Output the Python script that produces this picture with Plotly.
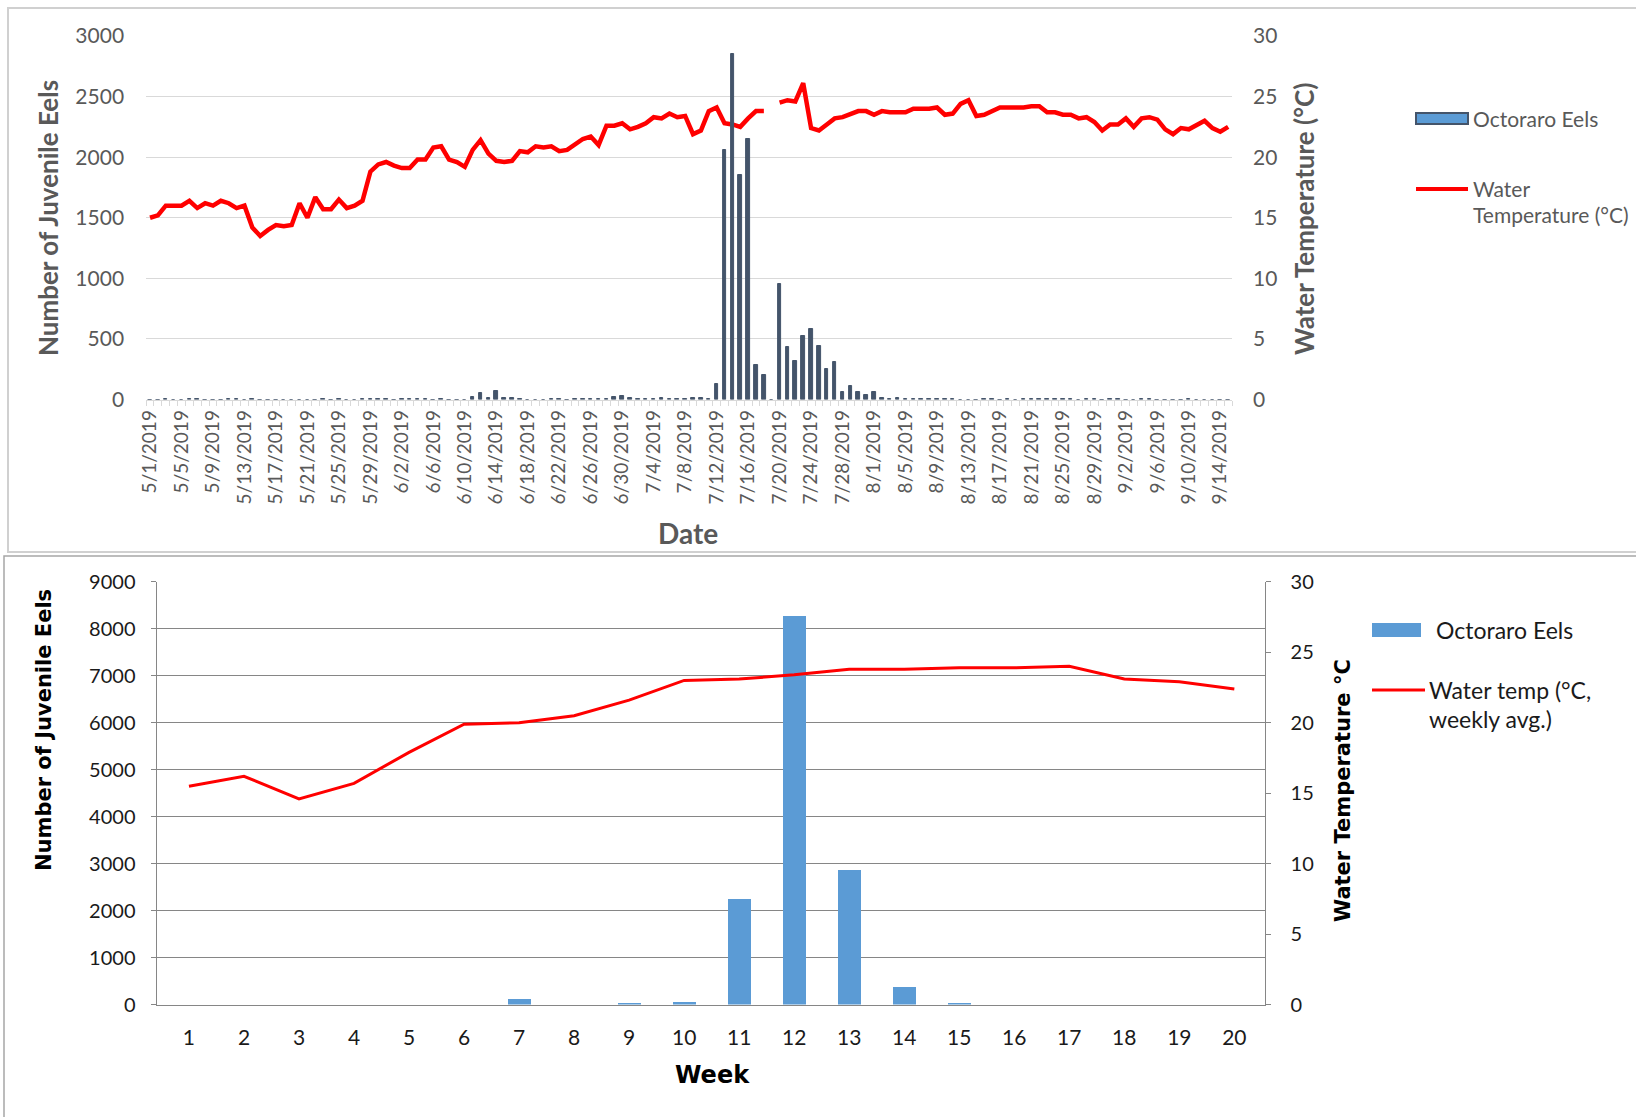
import pandas as pd
import plotly.graph_objects as go

W, H = 1636, 1117

# ---- Daily counts and water temperature, 1 May - 15 Sep 2019 ----
dates = pd.date_range("2019-05-01", "2019-09-15", freq="D").strftime("%Y-%m-%d").tolist()

daily_eels = [
    0, 0, 8, 0, 0, 8, 8, 0, 0, 0,            # 5/1 - 5/10
    8, 8, 0, 8, 0, 0, 0, 0, 0, 0,            # 5/11 - 5/20
    0, 0, 8, 0, 8, 0, 0, 8, 8, 8,            # 5/21 - 5/30
    8, 0, 8, 8, 8, 8, 0, 8, 0, 0,            # 5/31 - 6/9
    0, 20, 50, 12, 72, 10, 10, 8, 0, 0,      # 6/10 - 6/19
    0, 8, 8, 0, 8, 8, 8, 8, 8, 22,           # 6/20 - 6/29
    25, 14, 8, 8, 8, 14, 8, 8, 8, 14,        # 6/30 - 7/9
    14, 8, 130, 2060, 2850, 1850, 2150, 285, 200, 0,   # 7/10 - 7/19
    950, 435, 320, 520, 585, 445, 250, 310, 65, 115,   # 7/20 - 7/29
    60, 40, 60, 14, 8, 14, 8, 8, 8, 8,       # 7/30 - 8/8
    8, 8, 8, 0, 0, 0, 8, 8, 0, 8,            # 8/9 - 8/18
    0, 8, 8, 8, 8, 8, 8, 8, 0, 8,            # 8/19 - 8/28
    8, 0, 8, 8, 0, 0, 8, 8, 0, 0,            # 8/29 - 9/7
    0, 0, 8, 0, 0, 0, 0, 0,                  # 9/8 - 9/15
]

daily_temp = [
    15.0, 15.2, 16.0, 16.0, 16.0, 16.4, 15.8, 16.2, 16.0, 16.4,
    16.2, 15.8, 16.0, 14.2, 13.5, 14.0, 14.4, 14.3, 14.4, 16.2,
    15.0, 16.7, 15.7, 15.7, 16.5, 15.8, 16.0, 16.4, 18.8, 19.4,
    19.6, 19.3, 19.1, 19.1, 19.8, 19.8, 20.8, 20.9, 19.8, 19.6,
    19.2, 20.6, 21.4, 20.3, 19.7, 19.6, 19.7, 20.5, 20.4, 20.9,
    20.8, 20.9, 20.5, 20.6, 21.0, 21.5, 21.7, 21.0, 22.6, 22.6,
    22.8, 22.3, 22.5, 22.8, 23.3, 23.2, 23.6, 23.3, 23.4, 21.9,
    22.2, 23.8, 24.1, 22.8, 22.7, 22.5, 23.2, 23.8, 23.8, None,
    24.5, 24.7, 24.6, 26.1, 22.4, 22.2, 22.7, 23.2, 23.3, 23.6,
    23.8, 23.8, 23.5, 23.8, 23.7, 23.7, 23.7, 24.0, 24.0, 24.0,
    24.1, 23.5, 23.6, 24.4, 24.7, 23.4, 23.5, 23.8, 24.1, 24.1,
    24.1, 24.1, 24.2, 24.2, 23.7, 23.7, 23.5, 23.5, 23.2, 23.3,
    22.9, 22.2, 22.7, 22.7, 23.2, 22.5, 23.2, 23.3, 23.1, 22.3,
    21.9, 22.4, 22.3, 22.7, 23.0, 22.4, 22.1, 22.5,
]

# ---- Weekly totals and weekly mean temperature ----
weeks = [str(w) for w in range(1, 21)]
weekly_eels = [0, 0, 0, 0, 0, 0, 130, 0, 40, 60,
               2250, 8280, 2880, 380, 35, 0, 0, 0, 0, 0]
weekly_temp = [15.5, 16.2, 14.6, 15.7, 17.9, 19.9, 20.0, 20.5, 21.6, 23.0,
               23.1, 23.4, 23.8, 23.8, 23.9, 23.9, 24.0, 23.1, 22.9, 22.4]

DAY_MS = 86400000


def px(x):
    return x / W


def py(y):
    return 1 - y / H


GRAY_TXT = "#595959"
DARK_TXT = "#1a1a1a"
FONT = "Lato"
BOLD_WIDE = "DejaVu Sans"

fig = go.Figure()

# top panel: daily temperature (base axis) with daily counts on top
fig.add_trace(go.Scatter(
    x=dates, y=daily_temp, xaxis="x", yaxis="y", mode="lines",
    line=dict(color="#FF0000", width=4.5), connectgaps=False,
    name="Water Temperature (°C)", showlegend=False,
))
fig.add_trace(go.Bar(
    x=dates, y=daily_eels, xaxis="x", yaxis="y2",
    width=0.45 * DAY_MS,
    marker=dict(color="#44546A", line=dict(color="#44546A", width=1)),
    name="Octoraro Eels", showlegend=False,
))

# bottom panel: weekly counts with weekly mean temperature
fig.add_trace(go.Bar(
    x=weeks, y=weekly_eels, xaxis="x3", yaxis="y3", width=0.42,
    marker=dict(color="#5B9BD5", line=dict(width=0)),
    name="Octoraro Eels", showlegend=False,
))
fig.add_trace(go.Scatter(
    x=weeks, y=weekly_temp, xaxis="x3", yaxis="y4", mode="lines",
    line=dict(color="#FF0000", width=3),
    name="Water temp (°C, weekly avg.)", showlegend=False,
))

top_x = [px(146.1), px(1232.1)]
top_y = [py(399.5), py(36)]
bot_x = [px(156.5), px(1264.6)]
bot_y = [py(1004.6), py(581.8)]

fig.update_layout(
    template="none",
    width=W, height=H,
    margin=dict(l=0, r=0, t=0, b=0, pad=0, autoexpand=False),
    paper_bgcolor="white", plot_bgcolor="rgba(0,0,0,0)",
    showlegend=False, bargap=0,
    xaxis=dict(
        domain=top_x, anchor="y", type="date", automargin=False,
        range=["2019-04-30 12:00", "2019-09-15 12:00"],
        tick0="2019-05-01", dtick=4 * DAY_MS, tickformat="%-m/%-d/%Y",
        tickangle=-90, ticks="", ticklabelstandoff=2,
        tickfont=dict(family=FONT, size=19, color=GRAY_TXT),
        showgrid=False, zeroline=False,
        showline=True, linecolor="#d9d9d9", linewidth=1,
        minor=dict(ticks="outside", ticklen=5, tickcolor="#d9d9d9",
                   tick0="2019-04-30 12:00", dtick=DAY_MS, showgrid=False),
    ),
    yaxis=dict(
        domain=top_y, anchor="x", side="right", range=[0, 30], dtick=5,
        automargin=False,
        showgrid=True, gridcolor="#d9d9d9", gridwidth=1, zeroline=False,
        ticks="", ticklabelstandoff=20,
        tickfont=dict(family=FONT, size=21, color=GRAY_TXT),
    ),
    yaxis2=dict(
        overlaying="y", anchor="x", side="left", range=[0, 3000], dtick=500,
        automargin=False,
        showgrid=False, zeroline=False, ticks="", ticklabelstandoff=21,
        tickfont=dict(family=FONT, size=21, color=GRAY_TXT),
    ),
    xaxis3=dict(
        domain=bot_x, anchor="y3", type="category", range=[-0.59, 19.55],
        automargin=False,
        ticks="", ticklabelstandoff=14,
        tickfont=dict(family=FONT, size=21, color=DARK_TXT),
        showgrid=False, zeroline=False,
        showline=True, linecolor="#868686", linewidth=1,
    ),
    yaxis3=dict(
        domain=bot_y, anchor="x3", range=[0, 9000], dtick=1000,
        automargin=False,
        showgrid=True, gridcolor="#868686", gridwidth=1, zeroline=False,
        showline=True, linecolor="#868686", linewidth=1,
        ticks="outside", ticklen=5, tickcolor="#868686", ticklabelstandoff=11,
        tickfont=dict(family=FONT, size=20, color=DARK_TXT),
    ),
    yaxis4=dict(
        overlaying="y3", anchor="x3", side="right", range=[0, 30], dtick=5,
        automargin=False,
        showgrid=False, zeroline=False,
        showline=True, linecolor="#868686", linewidth=1,
        ticks="outside", ticklen=5, tickcolor="#868686", ticklabelstandoff=16,
        tickfont=dict(family=FONT, size=20, color=DARK_TXT),
    ),
)

shapes = [
    # panel frames
    dict(type="rect", xref="paper", yref="paper",
         x0=px(8), x1=px(W + 6), y0=py(552), y1=py(8),
         line=dict(color="#d0d0d0", width=2), fillcolor="rgba(0,0,0,0)"),
    dict(type="rect", xref="paper", yref="paper",
         x0=px(4), x1=px(W + 6), y0=py(H + 6), y1=py(556),
         line=dict(color="#a6a6a6", width=1.5), fillcolor="rgba(0,0,0,0)"),
    # top legend keys
    dict(type="rect", xref="paper", yref="paper",
         x0=px(1416), x1=px(1468), y0=py(124), y1=py(113),
         fillcolor="#5B9BD5", line=dict(color="#44546A", width=2)),
    dict(type="line", xref="paper", yref="paper",
         x0=px(1416), x1=px(1468), y0=py(189), y1=py(189),
         line=dict(color="#FF0000", width=4)),
    # bottom legend keys
    dict(type="rect", xref="paper", yref="paper",
         x0=px(1372), x1=px(1421), y0=py(637), y1=py(623),
         fillcolor="#5B9BD5", line=dict(width=0)),
    dict(type="line", xref="paper", yref="paper",
         x0=px(1372), x1=px(1425), y0=py(690), y1=py(690),
         line=dict(color="#FF0000", width=3)),
]


def label(text, x, y, size, color, family, bold=False, angle=0, anchor="center"):
    t = f"<b>{text}</b>" if bold else text
    return dict(text=t, x=px(x), y=py(y), xref="paper", yref="paper",
                showarrow=False, textangle=angle, xanchor=anchor, yanchor="middle",
                font=dict(family=family, size=size, color=color))


annotations = [
    # top panel titles
    label("Number of Juvenile Eels", 48, 218, 26, GRAY_TXT, FONT, True, -90),
    label("Water Temperature (°C)", 1304, 219, 26, GRAY_TXT, FONT, True, -90),
    label("Date", 688, 533, 28, GRAY_TXT, FONT, True),
    # top legend
    label("Octoraro Eels", 1471, 118.5, 21, GRAY_TXT, FONT, anchor="left"),
    label("Water", 1471, 188, 21, GRAY_TXT, FONT, anchor="left"),
    label("Temperature (°C)", 1471, 214, 21, GRAY_TXT, FONT, anchor="left"),
    # bottom panel titles
    label("Number of Juvenile Eels", 44, 730, 21, "#000000", BOLD_WIDE, True, -90),
    label("Water Temperature °C", 1343, 791, 21, "#000000", BOLD_WIDE, True, -90),
    label("Week", 712, 1075, 24, "#000000", BOLD_WIDE, True),
    # bottom legend
    label("Octoraro Eels", 1434, 630, 23, DARK_TXT, FONT, anchor="left"),
    label("Water temp (°C,", 1427, 690, 23, DARK_TXT, FONT, anchor="left"),
    label("weekly avg.)", 1427, 719, 23, DARK_TXT, FONT, anchor="left"),
]

fig.update_layout(shapes=shapes, annotations=annotations)

fig.write_html("out.html")
